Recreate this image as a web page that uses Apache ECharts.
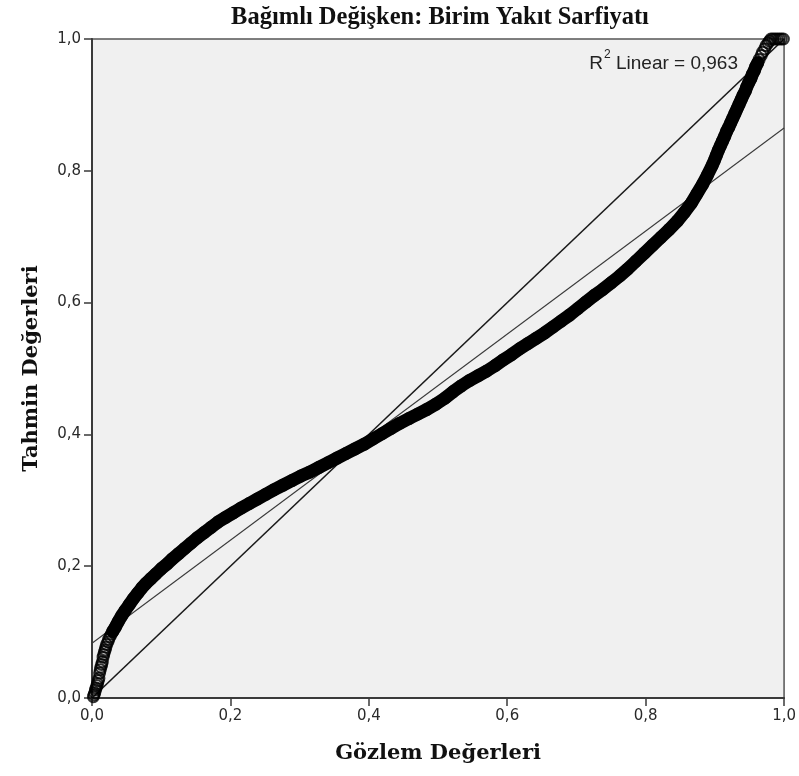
<!DOCTYPE html>
<html>
<head>
<meta charset="utf-8">
<script src="https://cdn.jsdelivr.net/npm/echarts@6/dist/echarts.min.js"></script>
<style>
html,body{margin:0;padding:0;background:#fff;}
#c{width:799px;height:776px;}
</style>
</head>
<body>
<div id="c"></div>
<script>
var observed = [
  0.002,0.003,0.004,0.005,0.006,0.007,0.008,0.009,0.010,0.011,
  0.012,0.013,0.014,0.015,0.016,0.017,0.018,0.019,0.020,0.021,
  0.023,0.024,0.026,0.028,0.030,0.034,0.038,0.043,0.048,0.054,
  0.060,0.066,0.072,0.078,0.085,0.092,0.100,0.108,0.116,0.125,
  0.134,0.143,0.152,0.162,0.172,0.182,0.193,0.204,0.215,0.227,
  0.239,0.251,0.263,0.276,0.289,0.302,0.315,0.328,0.341,0.354,
  0.367,0.380,0.393,0.406,0.419,0.432,0.445,0.458,0.471,0.484,
  0.497,0.510,0.522,0.534,0.546,0.558,0.570,0.582,0.594,0.606,
  0.618,0.630,0.642,0.654,0.666,0.678,0.690,0.702,0.714,0.726,
  0.738,0.750,0.762,0.774,0.786,0.798,0.810,0.822,0.834,0.846,
  0.856,0.866,0.874,0.882,0.889,0.896,0.899,0.902,0.905,0.908,
  0.911,0.914,0.917,0.920,0.923,0.926,0.929,0.932,0.935,0.938,
  0.941,0.944,0.946,0.949,0.952,0.954,0.957,0.959,0.962,0.964,
  0.967,0.969,0.972,0.974,0.977,0.979,0.981,0.984,0.987,0.990,
  0.993,0.996,0.999
];
// Predicted values (Tahmin Değerleri)
var predicted = [
  0.002,0.005,0.008,0.012,0.015,0.019,0.022,0.026,0.030,0.038,
  0.043,0.047,0.051,0.055,0.062,0.066,0.070,0.073,0.077,0.081,
  0.085,0.089,0.093,0.097,0.101,0.108,0.116,0.125,0.133,0.142,
  0.151,0.159,0.167,0.174,0.181,0.188,0.196,0.203,0.211,0.219,
  0.227,0.235,0.243,0.251,0.259,0.267,0.274,0.281,0.288,0.295,
  0.302,0.309,0.316,0.323,0.330,0.337,0.343,0.350,0.357,0.364,
  0.371,0.378,0.385,0.393,0.401,0.409,0.417,0.424,0.431,0.438,
  0.446,0.455,0.465,0.474,0.482,0.489,0.496,0.504,0.513,0.521,
  0.530,0.538,0.546,0.554,0.563,0.572,0.581,0.591,0.601,0.611,
  0.620,0.630,0.640,0.651,0.663,0.675,0.687,0.699,0.711,0.724,
  0.737,0.751,0.765,0.779,0.793,0.808,0.815,0.823,0.831,0.838,
  0.845,0.852,0.860,0.866,0.873,0.880,0.887,0.894,0.901,0.908,
  0.915,0.921,0.927,0.934,0.940,0.946,0.952,0.958,0.964,0.969,
  0.975,0.980,0.985,0.990,0.994,0.997,1.000,1.000,1.000,1.000,
  1.000,1.000,1.000
];

// Reference line y = x and fitted linear line (intercept / slope)
var refLineX = [0, 1];
var refLineY = [0, 1];
var fitIntercept = 0.083;
var fitSlope = 0.782;
var fitLineX = [0, 1];

var titleText = 'Bağımlı Değişken: Birim Yakıt Sarfiyatı';
var xTitle = 'Gözlem Değerleri';
var yTitle = 'Tahmin Değerleri';
var r2Text = '0,963';

var points = observed.map(function (x, i) { return [x, predicted[i]]; });
var densePoints = points.filter(function (p) { return p[0] >= 0.03 && p[0] <= 0.962; });
var refData = refLineX.map(function (x, i) { return [x, refLineY[i]]; });
var fitData = fitLineX.map(function (x) { return [x, fitIntercept + fitSlope * x]; });

function fmt(v) { return v.toFixed(1).replace('.', ','); }

var chart = echarts.init(document.getElementById('c'), null, {renderer: 'canvas'});
var axisCommon = {
  type: 'value', min: 0, max: 1, interval: 0.2,
  axisLine: {show: true, onZero: false, lineStyle: {color: '#3a3a3a', width: 2}},
  axisTick: {show: true, inside: false, length: 8, lineStyle: {color: '#3a3a3a', width: 1.5}},
  axisLabel: {formatter: fmt, fontFamily: 'DejaVu Sans', fontSize: 15, color: '#2a2a2a', margin: 11},
  splitLine: {show: false},
  nameLocation: 'middle',
  nameTextStyle: {fontFamily: 'DejaVu Serif', fontWeight: 'bold', fontSize: 21, color: '#111'}
};
chart.setOption({
  animation: false,
  backgroundColor: '#ffffff',
  grid: {left: 92, right: 13, top: 39, bottom: 78, show: true, backgroundColor: '#f0f0f0', borderColor: '#555', borderWidth: 1.5},
  xAxis: Object.assign({}, axisCommon, {name: xTitle, nameGap: 45}),
  yAxis: Object.assign({}, axisCommon, {name: yTitle, nameGap: 50}),
  graphic: [
    {type: 'text', x: 440, y: 18, style: {text: titleText, font: 'bold 24.5px "Liberation Serif"', fill: '#111',
      align: 'center', verticalAlign: 'middle', textAlign: 'center', textVerticalAlign: 'middle'}},
    {type: 'text', right: 799 - 738, top: 49, style: {
      text: '{a|R}{s|2}{a| Linear = ' + r2Text + '}',
      rich: {
        a: {fontFamily: 'Liberation Sans', fontSize: 19, fill: '#222', verticalAlign: 'bottom', lineHeight: 24},
        s: {fontFamily: 'Liberation Sans', fontSize: 12, fill: '#222', verticalAlign: 'top', lineHeight: 24, padding: [0, 0, 0, 1]}
      }
    }}
  ],
  series: [
    {type: 'line', data: refData, symbol: 'none', lineStyle: {color: '#1a1a1a', width: 1.6}, z: 2, silent: true},
    {type: 'line', data: fitData, symbol: 'none', lineStyle: {color: '#3a3a3a', width: 1.1}, z: 2, silent: true},
    {type: 'line', data: densePoints, symbol: 'none', lineStyle: {color: '#000', width: 13, cap: 'round', join: 'round'}, z: 3, silent: true},
    {type: 'scatter', data: points, symbol: 'circle', symbolSize: 11,
     itemStyle: {color: 'rgba(0,0,0,0)', borderColor: '#000', borderWidth: 2}, z: 4, silent: true}
  ]
});
</script>
</body>
</html>
